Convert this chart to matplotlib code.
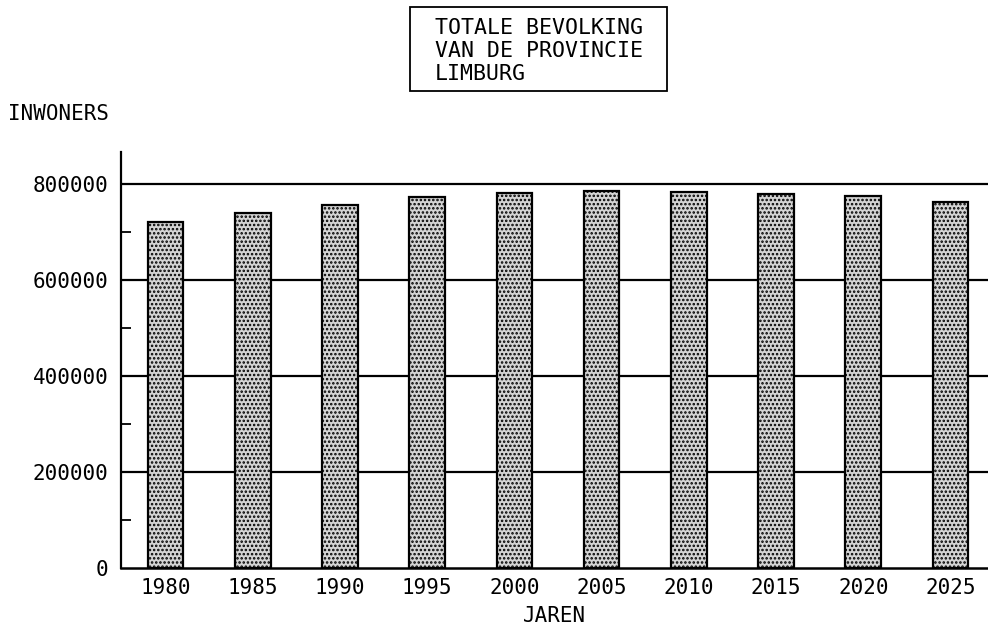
#!/usr/bin/env python3
# -*- coding: utf-8 -*-
# Totale bevolking van de provincie Limburg, staafdiagram

import numpy as np
import matplotlib
matplotlib.use("Agg")
import matplotlib.pyplot as plt
from matplotlib.patches import Rectangle
from matplotlib.ticker import MultipleLocator

jaren = ["1980", "1985", "1990", "1995", "2000",
         "2005", "2010", "2015", "2020", "2025"]
inwoners = [720000, 740000, 755000, 773000, 781000,
            785000, 783000, 779000, 775000, 762000]
y_ticks = [0, 200000, 400000, 600000, 800000]

titel = ["TOTALE BEVOLKING", "VAN DE PROVINCIE", "LIMBURG"]

plt.rcParams["font.family"] = ["DejaVu Sans Mono"]
plt.rcParams["hatch.linewidth"] = 1.2
plt.rcParams["hatch.color"] = "#333333"

fig = plt.figure(figsize=(9.88, 6.34), dpi=100)
ax = fig.add_axes([0.1225, 0.104, 0.8775, 0.656])

x = np.arange(len(jaren))
ax.bar(x, inwoners, width=0.41, facecolor="#d4d4d4", edgecolor="black",
       linewidth=1.6, hatch="....", zorder=3)

# horizontale lijnen
for v in y_ticks[1:]:
    ax.axhline(v, color="black", linewidth=1.6, zorder=2)

ax.set_xlim(-0.51, 9.43)
ax.set_ylim(0, 866000)
ax.set_xticks(x)
ax.set_xticklabels(jaren, fontsize=15)
ax.tick_params(axis="x", length=0, pad=7)
ax.set_yticks(y_ticks)
ax.set_yticklabels([str(v) for v in y_ticks], fontsize=15)
ax.yaxis.set_minor_locator(MultipleLocator(100000))
ax.tick_params(axis="y", which="major", length=0, pad=9)
ax.tick_params(axis="y", which="minor", direction="in", length=7, width=1.3)

for s in ["top", "right"]:
    ax.spines[s].set_visible(False)
ax.spines["left"].set_linewidth(1.6)
ax.spines["bottom"].set_linewidth(1.8)

ax.set_xlabel("JAREN", fontsize=15, labelpad=6)

fig.text(0.008, 0.820, "INWONERS", fontsize=15, va="center", ha="left")

# titelkader
fig.patches.append(Rectangle((0.415, 0.8565), 0.260, 0.1325,
                             transform=fig.transFigure, fill=False,
                             edgecolor="black", linewidth=1.3))
for i, regel in enumerate(titel):
    fig.text(0.4403, [0.9563, 0.9196, 0.8838][i], regel, fontsize=15.5,
             va="center", ha="left")

fig.savefig("out.png", dpi=100)
